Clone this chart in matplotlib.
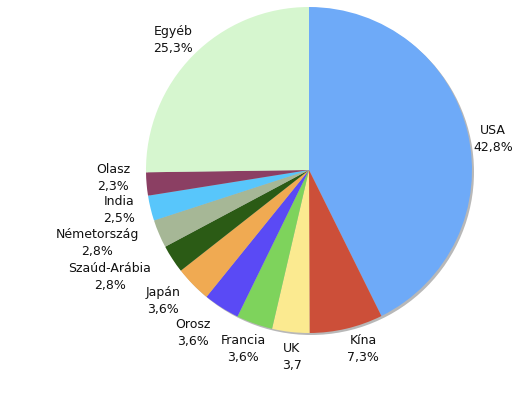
import matplotlib
matplotlib.use("Agg")
import matplotlib.pyplot as plt
from matplotlib.patches import Circle

countries = ["USA", "Kína", "UK", "Francia", "Orosz", "Japán",
             "Szaúd-Arábia", "Németország", "India", "Olasz", "Egyéb"]
shares = [42.8, 7.3, 3.7, 3.6, 3.6, 3.6, 2.8, 2.8, 2.5, 2.3, 25.3]
pct_labels = ["42,8%", "7,3%", "3,7", "3,6%", "3,6%", "3,6%",
              "2,8%", "2,8%", "2,5%", "2,3%", "25,3%"]
colors = ["#6eaaf8", "#cc4f39", "#fbea90", "#7ed35c", "#5a4af5", "#f0aa52",
          "#2b5b15", "#a6b796", "#58c6fb", "#8b3f63", "#d6f6cf"]

# layout (pixel positions of label centres, image coordinates)
label_pos = [(493, 139), (363, 349), (292, 357), (243, 349), (193, 333),
             (163, 301), (110, 277), (97, 243), (119, 210), (113, 178),
             (173, 40)]

W, H = 526, 393
fig = plt.figure(figsize=(W / 100, H / 100), dpi=100)
ax = fig.add_axes([0, 0, 1, 1])
cx, cy, r = 309, H - 170, 163

ax.add_patch(Circle((cx + 2, cy - 2), r, facecolor="#9a9a9a", edgecolor="none",
                    alpha=0.7, zorder=0))
ax.pie(shares, colors=colors, startangle=90, counterclock=False,
       center=(cx, cy), radius=r, frame=True,
       wedgeprops=dict(linewidth=0, edgecolor="none"))

for name, pct, (px, py) in zip(countries, pct_labels, label_pos):
    ax.text(px, H - py, f"{name}\n{pct}", ha="center", va="center",
            fontsize=9, color="#111111", family="DejaVu Sans", linespacing=1.45)

ax.set_xlim(0, W)
ax.set_ylim(0, H)
ax.set_aspect("equal")
ax.axis("off")
fig.savefig("out.png", dpi=100, facecolor="white")
